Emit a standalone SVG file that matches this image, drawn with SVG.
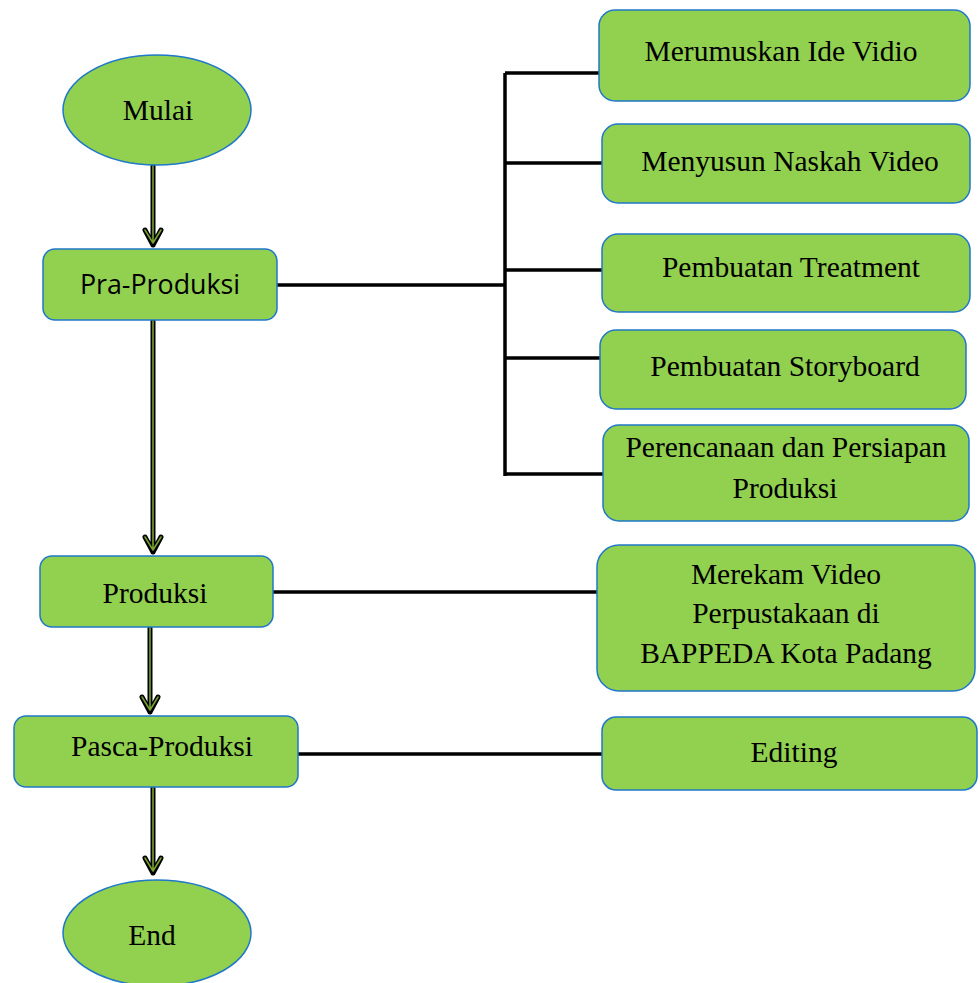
<svg xmlns="http://www.w3.org/2000/svg" width="980" height="983" viewBox="0 0 980 983">
<style>
.n{fill:#92d050;stroke:#1f78c8;stroke-width:1.5}
.t{font-family:"Liberation Serif","Times New Roman",serif;font-size:29.5px;fill:#000;text-anchor:middle}
.ts{font-family:"Open Sans","Noto Sans",sans-serif;font-size:26.8px;fill:#000;text-anchor:middle}
.l{stroke:#000;stroke-width:3.5;fill:none}
.ao{stroke:#000;stroke-width:5;fill:none;stroke-linecap:round;stroke-linejoin:round}
.ai{stroke:#76a030;stroke-width:1.6;fill:none;stroke-linecap:round;stroke-linejoin:round}
</style>
<rect width="980" height="983" fill="#fff"/>
<g id="connectors">
  <path class="l" d="M277 285H505M505 73V476M505 73H600M505 163H602M505 270H602M505 358H600M505 474H603M273 592H597M298 754H602"/>
  <g id="arrows">
    <path class="ao" d="M153 166V245M145 230L153 245L161 230"/>
    <path class="ai" d="M153 166V243M145 230L153 243L161 230"/>
    <path class="ao" d="M153 321V552M145 537L153 552L161 537"/>
    <path class="ai" d="M153 321V550M145 537L153 550L161 537"/>
    <path class="ao" d="M150 628V712M142 697L150 712L158 697"/>
    <path class="ai" d="M150 628V710M142 697L150 710L158 697"/>
    <path class="ao" d="M153 788V873M145 858L153 873L161 858"/>
    <path class="ai" d="M153 788V871M145 858L153 871L161 858"/>
  </g>
</g>
<g id="mulai"><ellipse class="n" cx="157" cy="110" rx="94" ry="55"/><text class="t" x="158" y="120">Mulai</text></g>
<g id="praproduksi"><rect class="n" x="43" y="249" width="234" height="71" rx="12"/><text class="ts" x="160" y="294">Pra-Produksi</text></g>
<g id="produksi"><rect class="n" x="40" y="556" width="233" height="71" rx="12"/><text class="t" x="155" y="603">Produksi</text></g>
<g id="pascaproduksi"><rect class="n" x="14" y="716" width="284" height="71" rx="12"/><text class="t" x="162" y="756">Pasca-Produksi</text></g>
<g id="end"><ellipse class="n" cx="157" cy="933" rx="94" ry="53"/><text class="t" x="152" y="945">End</text></g>
<g id="ide"><rect class="n" x="599" y="10" width="371" height="91" rx="16"/><text class="t" x="781" y="61">Merumuskan Ide Vidio</text></g>
<g id="naskah"><rect class="n" x="602" y="124" width="368" height="79" rx="16"/><text class="t" x="790" y="171">Menyusun Naskah Video</text></g>
<g id="treatment"><rect class="n" x="602" y="234" width="368" height="78" rx="16"/><text class="t" x="791" y="277">Pembuatan Treatment</text></g>
<g id="storyboard"><rect class="n" x="600" y="330" width="366" height="79" rx="16"/><text class="t" x="785" y="376">Pembuatan Storyboard</text></g>
<g id="perencanaan"><rect class="n" x="603" y="425" width="366" height="96" rx="16"/><text class="t" x="786" y="457">Perencanaan dan Persiapan</text><text class="t" x="785" y="498">Produksi</text></g>
<g id="merekam"><rect class="n" x="597" y="545" width="378" height="146" rx="22"/><text class="t" x="786" y="584">Merekam Video</text><text class="t" x="786" y="623">Perpustakaan di</text><text class="t" x="786" y="663">BAPPEDA Kota Padang</text></g>
<g id="editing"><rect class="n" x="602" y="717" width="375" height="73" rx="14"/><text class="t" x="794" y="762">Editing</text></g>
</svg>
